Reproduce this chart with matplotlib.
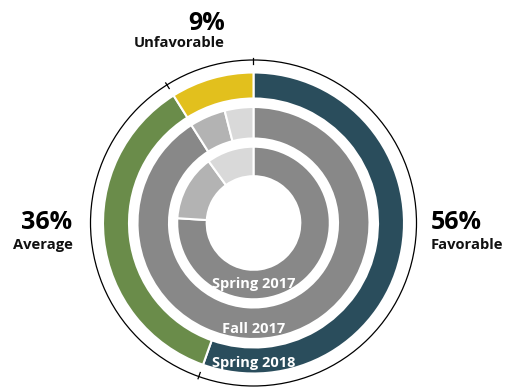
import numpy as np
import matplotlib.pyplot as plt
from matplotlib.patches import Circle

# survey results, one ring per term (outer = most recent)
categories = ["Favorable", "Average", "Unfavorable"]
spring_2018 = [56, 36, 9]
fall_2017 = [91, 5, 4]
spring_2017 = [76, 14, 10]
ring_labels = ["Spring 2018", "Fall 2017", "Spring 2017"]

outer_colors = ["#2a4d5c", "#6a8c4a", "#e2c01d"]
grey_colors = ["#888888", "#b3b3b3", "#d9d9d9"]

W, H = 509, 389
cx, cy = 253.5, H - 223

fig = plt.figure(figsize=(W / 100, H / 100), dpi=100)
ax = fig.add_axes([0, 0, 1, 1])

rings = [
    (spring_2018, outer_colors, 150.5, 26),
    (fall_2017, grey_colors, 116, 31.5),
    (spring_2017, grey_colors, 76.3, 29.5),
]
for vals, cols, r, w in rings:
    ax.pie(vals, colors=cols, radius=r, center=(cx, cy), startangle=90,
           counterclock=False,
           wedgeprops=dict(width=w, edgecolor="white", linewidth=1.5))

# thin guide circle with ticks at the outer ring's boundaries
ax.add_patch(Circle((cx, cy), 163, fill=False, ec="black", lw=0.9))
cum = np.concatenate([[0], np.cumsum(spring_2018)[:-1]]) / sum(spring_2018)
for c in cum:
    th = np.deg2rad(90 - c * 360)
    ax.plot([cx + 158.7 * np.cos(th), cx + 165.3 * np.cos(th)],
            [cy + 158.7 * np.sin(th), cy + 165.3 * np.sin(th)],
            color="black", lw=0.9)

font = "Open Sans"
big = dict(fontsize=18, fontweight="bold", family=font, color="black")
small = dict(fontsize=10.6, fontweight="bold", family=font, color="#111111")

# category callouts: (text x, alignment, percent baseline, label baseline)
callouts = [
    (431, "left", 229, 249),
    (72.5, "right", 229, 249),
    (225, "right", 30, 46.5),
]
for name, val, (x, ha, y1, y2) in zip(categories, spring_2018, callouts):
    ax.text(x, H - y1, f"{val}%", ha=ha, va="baseline", **big)
    ax.text(x, H - y2, name, ha=ha, va="baseline", **small)

# term names at the bottom of each ring
for lbl, y in zip(ring_labels, [366.5, 333, 288]):
    ax.text(cx, H - y, lbl, ha="center", va="baseline", color="white",
            fontsize=10.5, fontweight="bold", family=font)

ax.set_xlim(0, W)
ax.set_ylim(0, H)
ax.set_aspect("equal")
ax.axis("off")

fig.savefig("out.png", dpi=100, facecolor="white")
